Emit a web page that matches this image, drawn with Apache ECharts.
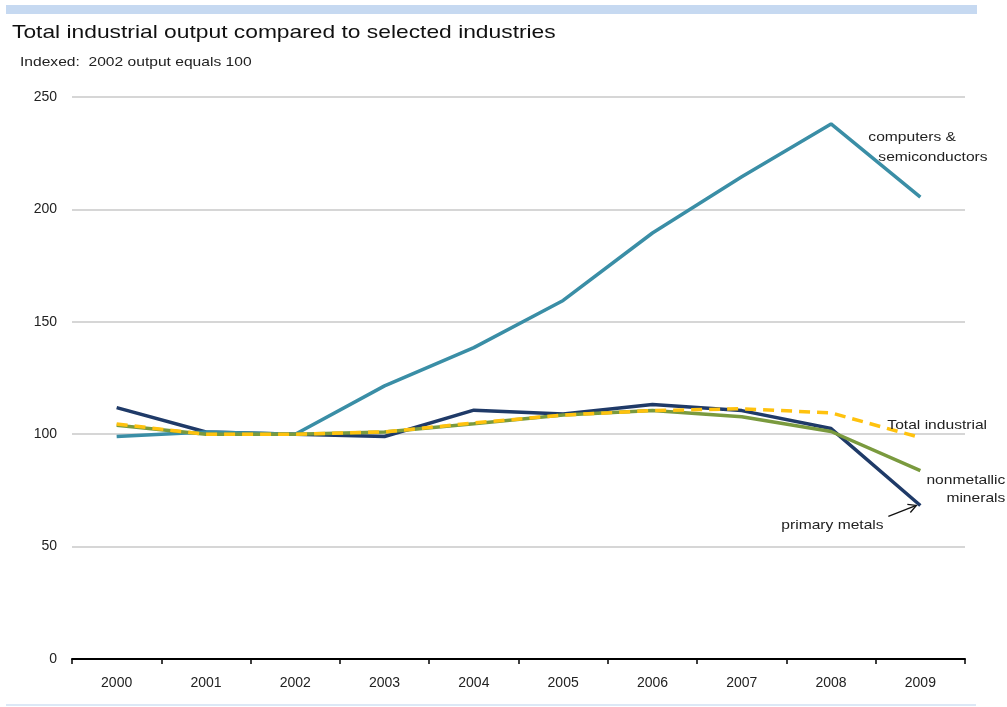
<!DOCTYPE html>
<html>
<head>
<meta charset="utf-8">
<style>
  html, body { margin: 0; padding: 0; background: #ffffff; }
  #chart { width: 1007px; height: 707px; }
</style>
<script src="https://cdn.jsdelivr.net/npm/echarts@6/dist/echarts.min.js"></script>
</head>
<body>
<div id="chart"></div>
<script>
// Index values, 2002 output = 100
const years = ['2000', '2001', '2002', '2003', '2004', '2005', '2006', '2007', '2008', '2009'];
const computers = [99, 101, 100, 121.5, 138.5, 159.5, 189.5, 214.5, 238, 205.5];
const primaryMetals = [111.8, 101, 100, 99, 110.7, 109, 113.2, 110.5, 102.5, 68.3];
const nonmetallic = [104, 100, 100, 101, 104.7, 108.5, 110.5, 107.8, 101.2, 83.8];
const totalIndustrial = [104.5, 100, 100, 101, 105, 108.5, 110.5, 111.3, 109.5, 98.5];
const yTicks = [0, 50, 100, 150, 200, 250];

const FONT = '"Liberation Sans", Arial, sans-serif';
const TEXT = '#222222';
const WIDE = 1.2; // horizontal stretch applied to the header and note text

const chart = echarts.init(document.getElementById('chart'), null, { renderer: 'canvas' });

chart.setOption({
  animation: false,
  backgroundColor: '#ffffff',
  textStyle: { fontFamily: FONT },
  grid: { left: 72, right: 42, top: 97, bottom: 48, containLabel: false },
  xAxis: {
    type: 'category',
    data: years,
    boundaryGap: true,
    axisLine: { lineStyle: { color: '#000000', width: 2 } },
    axisTick: { show: true, length: 5, lineStyle: { color: '#000000', width: 1.5 } },
    axisLabel: { color: TEXT, fontSize: 14, fontFamily: FONT, margin: 17 },
    splitLine: { show: false }
  },
  yAxis: {
    type: 'value',
    min: yTicks[0],
    max: yTicks[yTicks.length - 1],
    interval: 50,
    axisLine: { show: false },
    axisTick: { show: false },
    axisLabel: { color: TEXT, fontSize: 14, fontFamily: FONT, margin: 15 },
    splitLine: { lineStyle: { color: '#c8c8c8', width: 1.5 } }
  },
  series: [
    {
      name: 'primary metals', type: 'line', data: primaryMetals,
      symbol: 'none', z: 2,
      lineStyle: { color: '#1f3a68', width: 3.5 }
    },
    {
      name: 'computers & semiconductors', type: 'line', data: computers,
      symbol: 'none', z: 3,
      lineStyle: { color: '#3a8ea6', width: 3.5 }
    },
    {
      name: 'nonmetallic minerals', type: 'line', data: nonmetallic,
      symbol: 'none', z: 4,
      lineStyle: { color: '#7a9a3e', width: 3.5 }
    },
    {
      name: 'Total industrial', type: 'line', data: totalIndustrial,
      symbol: 'none', z: 5,
      lineStyle: { color: '#ffc20e', width: 3.5, type: [11, 7] }
    }
  ]
});

// Series annotations placed next to the last data point of each line
const last = years.length - 1;
const pt = (arr) => chart.convertToPixel({ xAxisIndex: 0, yAxisIndex: 0 }, [years[last], arr[last]]);
const pC = pt(computers), pT = pt(totalIndustrial), pN = pt(nonmetallic), pM = pt(primaryMetals);
const labelFont = '13px ' + FONT;

const note = (x, y, text, align, font, fill) => ({
  type: 'text', x: x, y: y, scaleX: WIDE, z: 10,
  style: { text: text, fill: fill || TEXT, font: font || labelFont, align: align || 'left', verticalAlign: 'middle' }
});

chart.setOption({
  graphic: [
    { type: 'rect', shape: { x: 6, y: 5, width: 971, height: 9 }, style: { fill: '#c6d9f1' }, silent: true },
    { type: 'rect', shape: { x: 6, y: 704, width: 970, height: 2 }, style: { fill: '#dce8f6' }, silent: true },
    note(12, 33, 'Total industrial output compared to selected industries', 'left', '19px ' + FONT, '#111111'),
    note(20, 62, 'Indexed:  2002 output equals 100', 'left', '13px ' + FONT),
    note(pC[0] - 52, pC[1] - 60, 'computers &'),
    note(pC[0] - 42, pC[1] - 40, 'semiconductors'),
    note(pT[0] - 33, pT[1] - 12, 'Total industrial'),
    note(pN[0] + 85, pN[1] + 10, 'nonmetallic', 'right'),
    note(pN[0] + 85, pN[1] + 28, 'minerals', 'right'),
    note(pM[0] - 139, pM[1] + 20, 'primary metals'),
    { type: 'line', shape: { x1: pM[0] - 32, y1: pM[1] + 11, x2: pM[0] - 4, y2: pM[1] }, style: { stroke: '#111111', lineWidth: 1.3 } },
    { type: 'polyline', shape: { points: [[pM[0] - 13, pM[1] - 1], [pM[0] - 4, pM[1]], [pM[0] - 10, pM[1] + 7]] }, style: { stroke: '#111111', lineWidth: 1.3, fill: null } }
  ]
});
</script>
</body>
</html>
